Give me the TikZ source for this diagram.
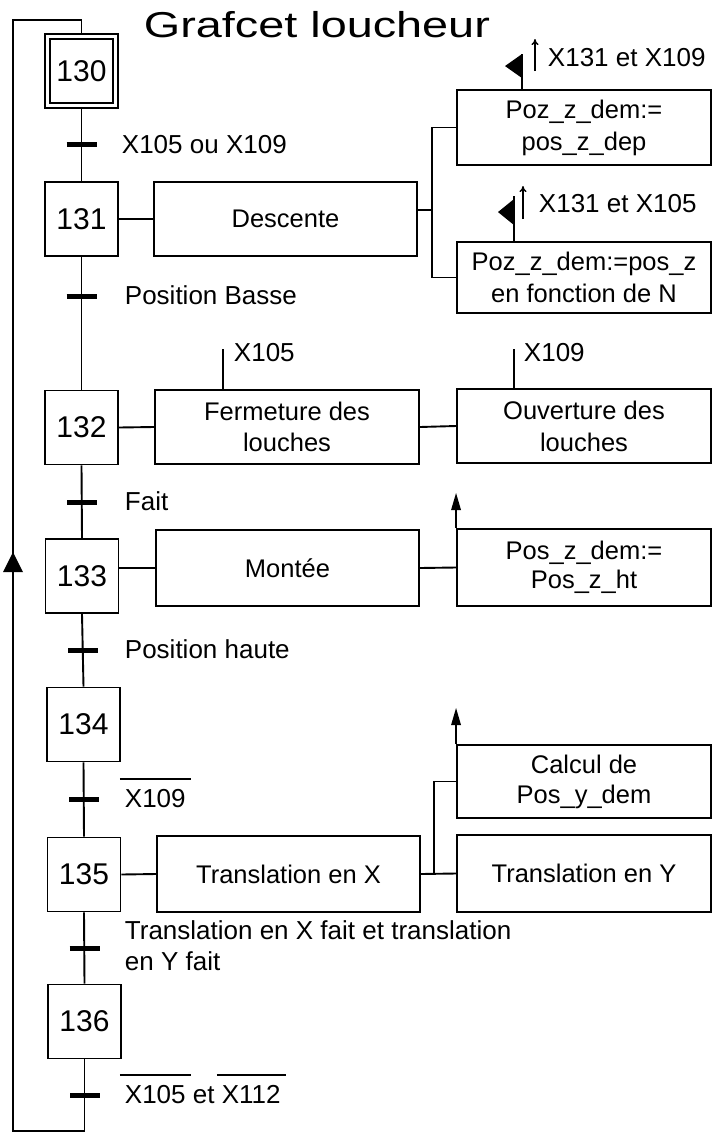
\documentclass[tikz,border=0pt]{standalone}
\usepackage{fontspec}
\setmainfont{Liberation Sans}
\usetikzlibrary{arrows.meta}
\newcommand\ovl[1]{\kern-5pt\vbox{\hrule height 1.5pt\kern 9pt\hbox{\kern5pt #1\kern5pt}}\kern-5pt\relax}
\begin{document}
\begin{tikzpicture}[x=1pt,y=-1pt, line width=1.9pt,
 stepbox/.style={draw, minimum width=73pt, minimum height=74pt, inner sep=0pt, font=\fontsize{30}{34}\selectfont},
 actbox/.style={draw, inner sep=0pt, align=center, font=\fontsize{25.5}{31}\selectfont},
 rbox/.style={actbox, minimum width=254pt, font=\fontsize{25.5}{32}\selectfont},
 lbl/.style={anchor=base west, inner sep=0pt, font=\fontsize{26}{31}\selectfont, align=left},
 tick/.style={line width=5pt},
 rise/.style={line width=1.4pt,-{To[length=6pt,width=7pt]}},
]
\useasboundingbox (0,0) rectangle (713,1133);
% title
\node[lbl, font=\fontsize{36}{40}\selectfont] (title) at (143,37) {\scalebox{1.3}[1]{Grafcet loucheur}};
% steps
\node[stepbox] (s130) at (81.5,71) {130};
\draw ([shift={(6,6)}]s130.north west) rectangle ([shift={(-6,-6)}]s130.south east);
\node[stepbox] (s131) at (81.5,219) {131};
\node[stepbox] (s132) at (81.5,427.5) {132};
\node[stepbox] (s133) at (82,576) {133};
\node[stepbox] (s134) at (83.5,724.5) {134};
\node[stepbox] (s135) at (84,874.5) {135};
\node[stepbox] (s136) at (84.5,1021.5) {136};
% links
\draw (s130.south) -- (s131.north);
\draw (s131.south) -- (s132.north);
\draw (s132.south) -- (s133.north);
\draw (s133.south) -- (s134.north);
\draw (s134.south) -- (s135.north);
\draw (s135.south) -- (s136.north);
\coordinate (lb) at (13,1131);
\coordinate (lt) at (13,20);
\draw (s136.south) |- (lb) -- (lt) -| (s130.north);
\coordinate (la) at (13,552);
\fill (la) -- ++(-10,20) -- ++(20,0) -- cycle;
% transitions
\coordinate (t1) at (81.5,144);
\coordinate (t2) at (81.5,296);
\coordinate (t3) at (82,502);
\coordinate (t4) at (83,650);
\coordinate (t5) at (84,799);
\coordinate (t6) at (84.5,948);
\coordinate (t7) at (85,1095);
\foreach \t in {t1,t2,t3,t4,t5,t6,t7} \draw[tick] (\t) ++(-15,0) -- ++(30,0);
\node[lbl] (r1) at (121,153) {X105 ou X109};
\node[lbl] (r2) at (124,304) {Position Basse};
\node[lbl] (r3) at (124,510) {Fait};
\node[lbl] (r4) at (124,658) {Position haute};
\node[lbl] (r5) at (124,807) {\ovl{X109}};
\node[lbl] (r6) at (124,970) {Translation en X fait et translation\\en Y fait};
\node[lbl] (r7) at (124,1103) {\ovl{X105} et \ovl{X112}};
% actions
\node[actbox, minimum width=263pt, minimum height=74pt] (desc) at (285.5,219) {Descente};
\node[actbox, minimum width=264pt, minimum height=74pt] (ferm) at (287,427) {Fermeture des\\louches};
\node[actbox, minimum width=263pt, minimum height=76pt] (mont) at (287.5,568) {Montée};
\node[actbox, minimum width=263pt, minimum height=76pt] (trx) at (288.5,874) {Translation en X};
\node[rbox, minimum height=75pt] (b1) at (584,127.5) {Poz\_z\_dem:=\\pos\_z\_dep};
\node[rbox, minimum height=71pt] (b2) at (584,277.5) {Poz\_z\_dem:=pos\_z\\en fonction de N};
\node[rbox, minimum height=74pt] (ouv) at (584,426) {Ouverture des\\louches};
\node[rbox, minimum height=77pt, font=\fontsize{25.5}{29}\selectfont] (posz) at (584,567.5) {Pos\_z\_dem:=\\Pos\_z\_ht};
\node[rbox, minimum height=73pt, font=\fontsize{25.5}{30}\selectfont] (calc) at (584,781.5) {Calcul de\\Pos\_y\_dem};
\node[rbox, minimum height=77pt] (try) at (584,873.5) {Translation en Y};
% action connections
\draw (s131.east) -- (desc.west);
\draw ([yshift=9pt]desc.east) -- ++(14,0) coordinate (br1);
\draw (b1.west) -| (br1) |- (b2.west);
\draw (s132.east) -- (ferm.west);
\draw (ferm.east) -- (ouv.west);
\draw (mont.west -| s133.east) -- (mont.west);
\draw (mont.east) -- (posz.west);
\draw (posz.north west) -- ++(0,-18) coordinate (a1);
\fill (a1) ++(-5,0) -- ++(5,-17) -- ++(5,17) -- cycle;
\draw (s135.east) -- (trx.west);
\draw (trx.east) -- (try.west);
\draw ([xshift=13pt]trx.east) |- (calc.west);
\draw (calc.north west) -- ++(0,-19) coordinate (a2);
\fill (a2) ++(-5,0) -- ++(5,-17) -- ++(5,17) -- cycle;
% conditions
\draw ([xshift=-64pt]ferm.north) -- ++(0,-40);
\node[lbl] (c1) at (233,361) {X105};
\draw ([xshift=-70pt]ouv.north) -- ++(0,-39);
\node[lbl] (c2) at (523,361) {X109};
% flags
\draw ([xshift=-62pt]b1.north) -- ++(0,-35) coordinate (f1);
\fill (f1) -- ++(-17,12) -- ++(17,12) -- cycle;
\draw[rise] ([shift={(13,17)}]f1) -- ++(0,-32);
\node[lbl] (q1) at (547,66) {X131 et X109};
\draw ([xshift=-70pt]b2.north) -- ++(0,-45) coordinate (f2);
\fill ([yshift=-3pt]f2) -- ++(-16,13) -- ++(16,13) -- cycle;
\draw[rise] ([shift={(9,23)}]f2) -- ++(0,-33);
\node[lbl] (q2) at (538,212) {X131 et X105};
\end{tikzpicture}
\end{document}
